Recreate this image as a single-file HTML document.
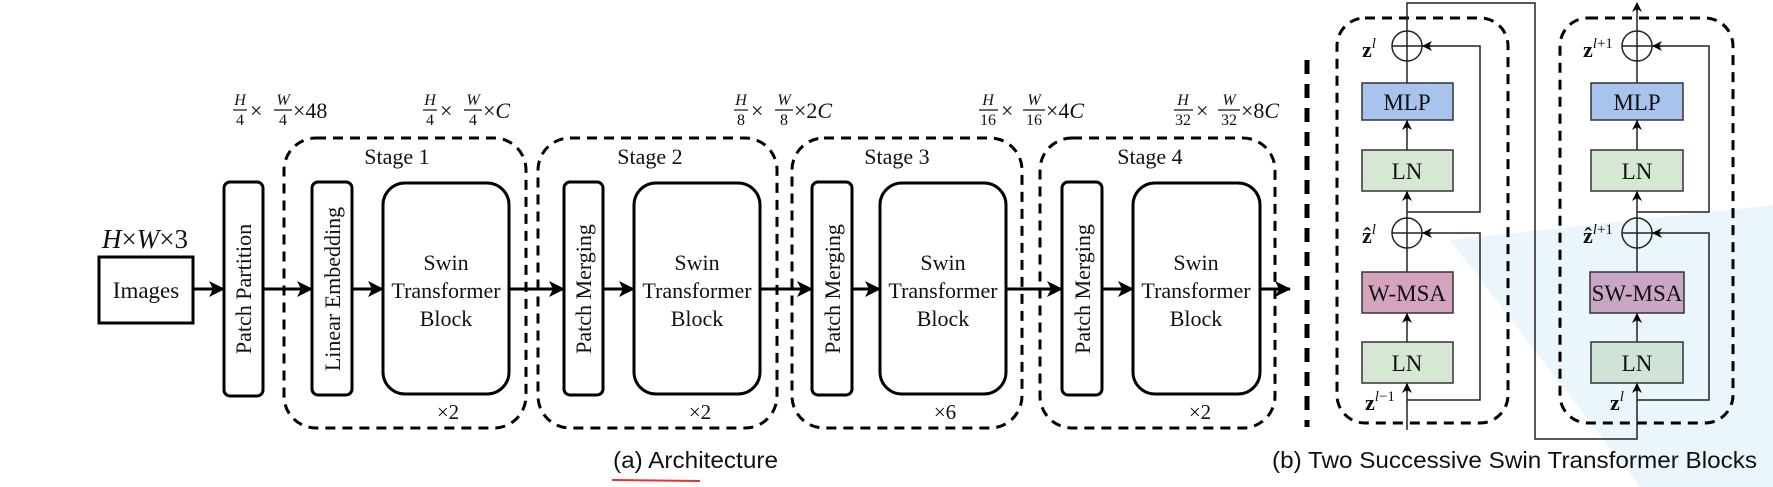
<!DOCTYPE html>
<html><head><meta charset="utf-8"><style>
html,body{margin:0;padding:0;background:#fff;}
svg{display:block;}
.s{font-family:"Liberation Serif",serif;fill:#111;}
.i{font-family:"Liberation Serif",serif;font-style:italic;fill:#111;}
.a{font-family:"Liberation Sans",sans-serif;fill:#111;}
</style></head><body>
<svg width="1773" height="487" viewBox="0 0 1773 487" xmlns="http://www.w3.org/2000/svg">
<defs>
<marker id="ah" markerWidth="10" markerHeight="10" refX="9" refY="5" orient="auto" markerUnits="userSpaceOnUse">
<path d="M0,0 L10,5 L0,10 L3,5 Z" fill="#000"/></marker>
<marker id="bh" markerWidth="16" markerHeight="16" refX="15" refY="8" orient="auto" markerUnits="userSpaceOnUse">
<path d="M0,0 L16,8 L0,16 L4,8 Z" fill="#000"/></marker>
</defs>
<polygon points="1450,240 1773,205 1773,487 1640,487" fill="#eaf5fc"/>

<!-- Architecture -->
<g fill="none" stroke="#000" stroke-width="3" stroke-dasharray="10,7">
<rect x="284" y="138" width="242" height="290" rx="32"/>
<rect x="538" y="138" width="239" height="290" rx="32"/>
<rect x="792" y="138" width="230" height="290" rx="32"/>
<rect x="1040" y="138" width="235" height="290" rx="32"/>
</g>
<line x1="1307" y1="60" x2="1307" y2="427" stroke="#000" stroke-width="5" stroke-dasharray="14,10"/>

<g fill="#fff" stroke="#000" stroke-width="3">
<rect x="99" y="257" width="94" height="66"/>
<rect x="224" y="182" width="39" height="214" rx="6"/>
<rect x="312" y="182" width="40" height="213" rx="6"/>
<rect x="383" y="183" width="126" height="211" rx="22"/>
<rect x="564" y="182" width="39" height="213" rx="6"/>
<rect x="634" y="183" width="126" height="211" rx="22"/>
<rect x="812" y="182" width="40" height="213" rx="6"/>
<rect x="880" y="183" width="126" height="211" rx="22"/>
<rect x="1062" y="182" width="40" height="213" rx="6"/>
<rect x="1133" y="183" width="127" height="211" rx="22"/>
</g>
<g stroke="#000" stroke-width="3" marker-end="url(#bh)">
<line x1="193" y1="289" x2="224" y2="289"/>
<line x1="263" y1="289" x2="312" y2="289"/>
<line x1="352" y1="289" x2="383" y2="289"/>
<line x1="509" y1="289" x2="564" y2="289"/>
<line x1="603" y1="289" x2="634" y2="289"/>
<line x1="760" y1="289" x2="812" y2="289"/>
<line x1="852" y1="289" x2="880" y2="289"/>
<line x1="1006" y1="289" x2="1062" y2="289"/>
<line x1="1102" y1="289" x2="1133" y2="289"/>
<line x1="1260" y1="289" x2="1290" y2="289"/>
</g>

<text class="s" x="146" y="298" font-size="23" text-anchor="middle">Images</text>
<text class="i" x="102" y="248" font-size="27">H<tspan font-style="normal">×</tspan>W<tspan font-style="normal">×3</tspan></text>

<g class="s" font-size="22" text-anchor="middle">
<text transform="translate(251,289) rotate(-90)">Patch Partition</text>
<text transform="translate(340,289) rotate(-90)">Linear Embedding</text>
<text transform="translate(591,289) rotate(-90)">Patch Merging</text>
<text transform="translate(840,289) rotate(-90)">Patch Merging</text>
<text transform="translate(1090,289) rotate(-90)">Patch Merging</text>
</g>
<g class="s" font-size="22" text-anchor="middle">
<text x="446" y="270">Swin</text><text x="446" y="298">Transformer</text><text x="446" y="326">Block</text>
<text x="697" y="270">Swin</text><text x="697" y="298">Transformer</text><text x="697" y="326">Block</text>
<text x="943" y="270">Swin</text><text x="943" y="298">Transformer</text><text x="943" y="326">Block</text>
<text x="1196" y="270">Swin</text><text x="1196" y="298">Transformer</text><text x="1196" y="326">Block</text>
</g>
<g class="s" font-size="22" text-anchor="middle">
<text x="397" y="164">Stage 1</text>
<text x="650" y="164">Stage 2</text>
<text x="897" y="164">Stage 3</text>
<text x="1150" y="164">Stage 4</text>
</g>
<g class="s" font-size="21" text-anchor="middle">
<text x="448" y="419">×2</text>
<text x="700" y="419">×2</text>
<text x="945" y="419">×6</text>
<text x="1200" y="419">×2</text>
</g>

<!-- dimension labels -->
<g font-size="16">
<g transform="translate(232,0)">
<text class="i" x="8" y="105" text-anchor="middle">H</text><line x1="1" y1="110" x2="15" y2="110" stroke="#111" stroke-width="1.2"/><text class="s" x="8" y="125" text-anchor="middle">4</text>
<text class="s" x="18" y="118" font-size="22">×</text>
<text class="i" x="51" y="105" text-anchor="middle">W</text><line x1="42" y1="110" x2="60" y2="110" stroke="#111" stroke-width="1.2"/><text class="s" x="51" y="125" text-anchor="middle">4</text>
<text class="s" x="61" y="118" font-size="22">×48</text>
</g>
<g transform="translate(422,0)">
<text class="i" x="8" y="105" text-anchor="middle">H</text><line x1="1" y1="110" x2="15" y2="110" stroke="#111" stroke-width="1.2"/><text class="s" x="8" y="125" text-anchor="middle">4</text>
<text class="s" x="18" y="118" font-size="22">×</text>
<text class="i" x="51" y="105" text-anchor="middle">W</text><line x1="42" y1="110" x2="60" y2="110" stroke="#111" stroke-width="1.2"/><text class="s" x="51" y="125" text-anchor="middle">4</text>
<text class="s" x="61" y="118" font-size="22">×<tspan font-style="italic">C</tspan></text>
</g>
<g transform="translate(733,0)">
<text class="i" x="8" y="105" text-anchor="middle">H</text><line x1="1" y1="110" x2="15" y2="110" stroke="#111" stroke-width="1.2"/><text class="s" x="8" y="125" text-anchor="middle">8</text>
<text class="s" x="18" y="118" font-size="22">×</text>
<text class="i" x="51" y="105" text-anchor="middle">W</text><line x1="42" y1="110" x2="60" y2="110" stroke="#111" stroke-width="1.2"/><text class="s" x="51" y="125" text-anchor="middle">8</text>
<text class="s" x="61" y="118" font-size="22">×2<tspan font-style="italic">C</tspan></text>
</g>
<g transform="translate(978,0)">
<text class="i" x="10" y="105" text-anchor="middle">H</text><line x1="1" y1="110" x2="20" y2="110" stroke="#111" stroke-width="1.2"/><text class="s" x="10" y="125" text-anchor="middle">16</text>
<text class="s" x="23" y="118" font-size="22">×</text>
<text class="i" x="56" y="105" text-anchor="middle">W</text><line x1="45" y1="110" x2="67" y2="110" stroke="#111" stroke-width="1.2"/><text class="s" x="56" y="125" text-anchor="middle">16</text>
<text class="s" x="68" y="118" font-size="22">×4<tspan font-style="italic">C</tspan></text>
</g>
<g transform="translate(1173,0)">
<text class="i" x="10" y="105" text-anchor="middle">H</text><line x1="1" y1="110" x2="20" y2="110" stroke="#111" stroke-width="1.2"/><text class="s" x="10" y="125" text-anchor="middle">32</text>
<text class="s" x="23" y="118" font-size="22">×</text>
<text class="i" x="56" y="105" text-anchor="middle">W</text><line x1="45" y1="110" x2="67" y2="110" stroke="#111" stroke-width="1.2"/><text class="s" x="56" y="125" text-anchor="middle">32</text>
<text class="s" x="68" y="118" font-size="22">×8<tspan font-style="italic">C</tspan></text>
</g>
</g>

<text class="a" x="613" y="468" font-size="23" textLength="165" lengthAdjust="spacingAndGlyphs">(a) Architecture</text>
<line x1="612" y1="480" x2="700" y2="481" stroke="#e8322a" stroke-width="2"/>

<!-- Swin blocks -->
<g fill="none" stroke="#000" stroke-width="3" stroke-dasharray="10,7">
<rect x="1337" y="18" width="171" height="405" rx="28"/>
<rect x="1560" y="18" width="173" height="405" rx="28"/>
</g>
<g fill="none" stroke="#222" stroke-width="1.5">
<polyline points="1407,430 1407,383"/>
<polyline points="1407,342 1407,313"/>
<polyline points="1407,272 1407,248"/>
<polyline points="1407,218 1407,191"/>
<polyline points="1407,150 1407,120"/>
<polyline points="1407,83 1407,61"/>
<polyline points="1407,31 1407,3 1535,3 1535,439 1637,439 1637,383"/>
<polyline points="1407,400 1480,400 1480,233 1422,233"/>
<polyline points="1407,212 1480,212 1480,46 1422,46"/>
<polyline points="1637,342 1637,313"/>
<polyline points="1637,272 1637,248"/>
<polyline points="1637,218 1637,191"/>
<polyline points="1637,150 1637,120"/>
<polyline points="1637,83 1637,61"/>
<polyline points="1637,31 1637,4"/>
<polyline points="1637,400 1709,400 1709,233 1652,233"/>
<polyline points="1637,212 1709,212 1709,46 1652,46"/>
</g>
<g stroke="#222" stroke-width="1.5">
<line x1="1407" y1="392" x2="1407" y2="384" marker-end="url(#ah)"/>
<line x1="1407" y1="322" x2="1407" y2="314" marker-end="url(#ah)"/>
<line x1="1407" y1="200" x2="1407" y2="192" marker-end="url(#ah)"/>
<line x1="1407" y1="129" x2="1407" y2="121" marker-end="url(#ah)"/>
<line x1="1432" y1="233" x2="1423" y2="233" marker-end="url(#ah)"/>
<line x1="1432" y1="46" x2="1423" y2="46" marker-end="url(#ah)"/>
<line x1="1637" y1="392" x2="1637" y2="384" marker-end="url(#ah)"/>
<line x1="1637" y1="322" x2="1637" y2="314" marker-end="url(#ah)"/>
<line x1="1637" y1="200" x2="1637" y2="192" marker-end="url(#ah)"/>
<line x1="1637" y1="129" x2="1637" y2="121" marker-end="url(#ah)"/>
<line x1="1662" y1="233" x2="1653" y2="233" marker-end="url(#ah)"/>
<line x1="1662" y1="46" x2="1653" y2="46" marker-end="url(#ah)"/>
<line x1="1637" y1="12" x2="1637" y2="3" marker-end="url(#ah)"/>
</g>
<g fill="none" stroke="#222" stroke-width="1.5">
<circle cx="1407" cy="46" r="15"/><line x1="1392" y1="46" x2="1422" y2="46"/><line x1="1407" y1="31" x2="1407" y2="61"/>
<circle cx="1407" cy="233" r="15"/><line x1="1392" y1="233" x2="1422" y2="233"/><line x1="1407" y1="218" x2="1407" y2="248"/>
<circle cx="1637" cy="46" r="15"/><line x1="1622" y1="46" x2="1652" y2="46"/><line x1="1637" y1="31" x2="1637" y2="61"/>
<circle cx="1637" cy="233" r="15"/><line x1="1622" y1="233" x2="1652" y2="233"/><line x1="1637" y1="218" x2="1637" y2="248"/>
</g>
<g stroke="#333" stroke-width="1.5">
<rect x="1362" y="83" width="91" height="37" fill="#a9c4ec"/>
<rect x="1362" y="150" width="91" height="41" fill="#d6e8d4"/>
<rect x="1362" y="272" width="91" height="41" fill="#d4a3be"/>
<rect x="1362" y="342" width="91" height="41" fill="#d6e8d4"/>
<rect x="1591" y="83" width="92" height="37" fill="#a9c4ec"/>
<rect x="1591" y="150" width="92" height="41" fill="#d6e8d4"/>
<rect x="1590" y="272" width="94" height="41" fill="#c9a6c6"/>
<rect x="1591" y="342" width="92" height="41" fill="#cfe4d6"/>
</g>
<g class="s" font-size="23" text-anchor="middle">
<text x="1407" y="110">MLP</text><text x="1407" y="179">LN</text><text x="1407" y="301">W-MSA</text><text x="1407" y="371">LN</text>
<text x="1637" y="110">MLP</text><text x="1637" y="179">LN</text><text x="1637" y="301">SW-MSA</text><text x="1637" y="371">LN</text>
</g>
<g class="s" font-size="22" font-weight="bold">
<text x="1362" y="57">z<tspan font-size="15" font-weight="normal" font-style="italic" dy="-9">l</tspan></text>
<text x="1362" y="243">ẑ<tspan font-size="15" font-weight="normal" font-style="italic" dy="-9">l</tspan></text>
<text x="1365" y="410">z<tspan font-size="15" font-weight="normal" font-style="italic" dy="-9">l</tspan><tspan font-size="15" font-weight="normal">−1</tspan></text>
<text x="1583" y="57">z<tspan font-size="15" font-weight="normal" font-style="italic" dy="-9">l</tspan><tspan font-size="15" font-weight="normal">+1</tspan></text>
<text x="1583" y="243">ẑ<tspan font-size="15" font-weight="normal" font-style="italic" dy="-9">l</tspan><tspan font-size="15" font-weight="normal">+1</tspan></text>
<text x="1610" y="410">z<tspan font-size="15" font-weight="normal" font-style="italic" dy="-9">l</tspan></text>
</g>
<text class="a" x="1272" y="468" font-size="23" textLength="485" lengthAdjust="spacingAndGlyphs">(b) Two Successive Swin Transformer Blocks</text>
</svg>
</body></html>
